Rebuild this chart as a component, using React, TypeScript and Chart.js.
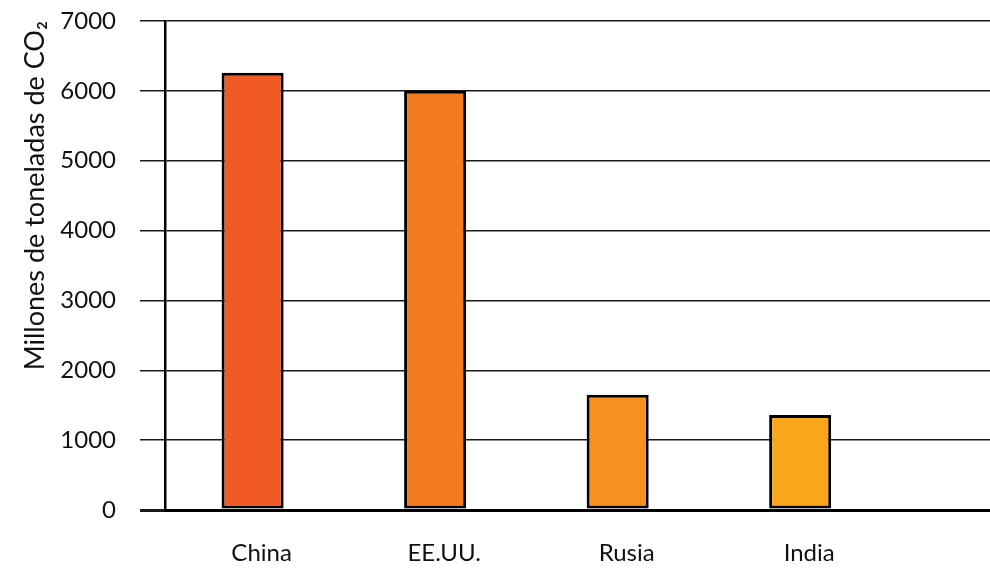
import React, { useEffect, useRef } from "react";
import { Chart, registerables } from "chart.js";

Chart.register(...registerables);

// CO2 emissions by country (millions of tonnes)
const countries = ["China", "EE.UU.", "Rusia", "India"];
const emissions = [6260, 6000, 1650, 1360];
const barColors = ["#F15A24", "#F47B20", "#F7901E", "#F9A61A"];
const yTicks = [0, 1000, 2000, 3000, 4000, 5000, 6000, 7000];
const yTitle = "Millones de toneladas de CO\u2082";

const FONT = "Lato, 'Open Sans', sans-serif";

export default function App() {
  const canvasRef = useRef<HTMLCanvasElement | null>(null);

  useEffect(() => {
    document.body.style.margin = "0";
    const canvas = canvasRef.current;
    if (!canvas) return;

    const chart = new Chart(canvas, {
      type: "bar",
      data: {
        datasets: [
          {
            data: emissions.map((v, i) => ({ x: i, y: v })),
            backgroundColor: barColors,
            borderColor: "#000000",
            borderWidth: 3,
            borderSkipped: false,
            categoryPercentage: 1,
            barPercentage: 0.34,
          },
        ],
      },
      options: {
        animation: false,
        responsive: true,
        maintainAspectRatio: false,
        layout: { padding: { top: 21, right: 0, left: 0, bottom: 0 } },
        plugins: {
          legend: { display: false },
          tooltip: { enabled: false },
        },
        scales: {
          x: {
            type: "linear",
            min: -0.48,
            max: 4.04,
            offset: false,
            grid: { display: false, drawTicks: false, offset: false },
            border: { display: true, color: "#000000", width: 3 },
            afterBuildTicks: (scale: any) => {
              scale.ticks = countries.map((_, i) => ({ value: i }));
            },
            afterFit: (scale: any) => {
              scale.height = 58;
            },
            ticks: {
              padding: 29,
              labelOffset: 9,
              maxRotation: 0,
              autoSkip: false,
              color: "#111111",
              font: { family: FONT, size: 24 },
              callback: (v: any) => countries[v as number] ?? "",
            },
          },
          y: {
            min: 0,
            max: 7000,
            afterBuildTicks: (scale: any) => {
              scale.ticks = yTicks.map((v) => ({ value: v }));
            },
            afterFit: (scale: any) => {
              scale.width = 165;
              scale.paddingTop = 0;
              scale.paddingBottom = 0;
            },
            grid: {
              color: "#1a1a1a",
              lineWidth: (ctx: any) => (ctx.tick && ctx.tick.value === 0 ? 3 : 1.5),
              tickWidth: (ctx: any) => (ctx.tick && ctx.tick.value === 0 ? 3 : 1.5),
              tickColor: "#1a1a1a",
              drawTicks: true,
              tickLength: 25,
            },
            border: { display: true, color: "#000000", width: 2.5 },
            ticks: {
              padding: 24,
              color: "#111111",
              font: { family: FONT, size: 24 },
              callback: (v: any) => String(v),
            },
            title: {
              display: true,
              text: yTitle,
              align: "end",
              color: "#111111",
              font: { family: FONT, size: 27 },
              padding: { top: 19, bottom: 0 },
            },
          },
        },
      },
    });

    return () => chart.destroy();
  }, []);

  return (
    <div style={{ position: "absolute", left: 0, top: 0, width: 990, height: 568 }}>
      <canvas ref={canvasRef} />
    </div>
  );
}
